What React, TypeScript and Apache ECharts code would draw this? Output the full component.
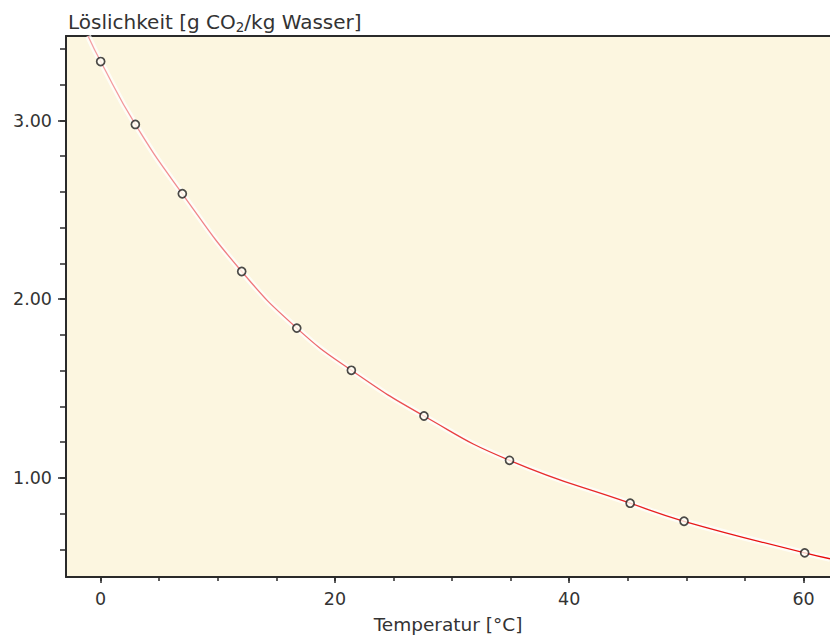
import React, { useEffect, useRef } from "react";
import * as echarts from "echarts";

// Measured values (Temperatur °C, Löslichkeit g CO2/kg Wasser)
const tempC = [0, 2.96, 6.97, 12.04, 16.74, 21.4, 27.6, 34.9, 45.2, 49.8, 60.1];
const solubility = [3.33, 2.978, 2.59, 2.155, 1.838, 1.602, 1.346, 1.098, 0.858, 0.757, 0.58];

// Fitted curve (ends at the plot borders)
const curveX = [-1.08, 0, 2.96, 6.97, 12.04, 16.74, 21.4, 27.6, 34.9, 45.2, 49.8, 60.1, 62.26];
const curveY = [3.473, 3.33, 2.978, 2.59, 2.155, 1.838, 1.602, 1.346, 1.098, 0.858, 0.757, 0.58, 0.547];

const xLabels = [0, 20, 40, 60];
const xMinorTicks = [0, 5, 10, 15, 20, 25, 30, 35, 40, 45, 50, 55, 60];
const yLabels = [1, 2, 3];
const yMinorTicks = [0.6, 0.8, 1.0, 1.2, 1.4, 1.6, 1.8, 2.0, 2.2, 2.4, 2.6, 2.8, 3.0, 3.2, 3.4];

const X_MIN = -2.96;
const X_MAX = 62.26;
const Y_MIN = 0.445;
const Y_MAX = 3.473;

const FONT = "DejaVu Sans";
const TEXT = "#333";
const AXIS = "#2a2a2a";

export default function App() {
  const ref = useRef<HTMLDivElement>(null);

  useEffect(() => {
    if (!ref.current) return;
    const chart = echarts.init(ref.current, null, { renderer: "svg" });
    const points = tempC.map((t, i) => [t, solubility[i]]);
    const curve = curveX.map((t, i) => [t, curveY[i]]);

    const hidden = { show: false };
    const hiddenLine = { show: false, onZero: false };
    chart.setOption({
      animation: false,
      backgroundColor: "#ffffff",
      title: {
        left: 63,
        top: 5,
        text: "{a|Löslichkeit [g CO}{s|2}{a|/kg Wasser]}",
        textStyle: {
          fontWeight: "normal",
          rich: {
            a: { fontFamily: FONT, fontSize: 20, fontWeight: "normal", color: TEXT, lineHeight: 24, verticalAlign: "middle" },
            s: { fontFamily: FONT, fontSize: 13.5, fontWeight: "normal", color: TEXT, lineHeight: 13, verticalAlign: "bottom" },
          },
        },
      },
      grid: {
        left: 66,
        right: 0,
        top: 36,
        bottom: 64,
        show: true,
        backgroundColor: "#FCF6E0",
        borderWidth: 0,
      },
      xAxis: [
        {
          type: "value",
          position: "bottom",
          min: X_MIN,
          max: X_MAX,
          axisLine: { show: true, onZero: false, lineStyle: { color: AXIS, width: 2 } },
          axisTick: { show: true, length: 4, customValues: xMinorTicks, lineStyle: { color: AXIS, width: 1.5 } },
          axisLabel: {
            show: true,
            customValues: xLabels,
            margin: 13,
            fontFamily: FONT,
            fontSize: 17.5,
            color: TEXT,
            formatter: (v: number) => String(v),
          },
          splitLine: hidden,
          name: "Temperatur [°C]",
          nameLocation: "middle",
          nameGap: 38,
          nameTextStyle: { fontFamily: FONT, fontSize: 18.5, color: TEXT },
        },
        {
          type: "value",
          position: "bottom",
          min: X_MIN,
          max: X_MAX,
          axisLine: hiddenLine,
          axisTick: { show: true, length: 6, customValues: xLabels, lineStyle: { color: AXIS, width: 1.5 } },
          axisLabel: hidden,
          splitLine: hidden,
        },
        {
          type: "value",
          position: "top",
          min: X_MIN,
          max: X_MAX,
          axisLine: { show: true, onZero: false, lineStyle: { color: AXIS, width: 2 } },
          axisTick: hidden,
          axisLabel: hidden,
          splitLine: hidden,
        },
      ],
      yAxis: [
        {
          type: "value",
          position: "left",
          min: Y_MIN,
          max: Y_MAX,
          axisLine: { show: true, onZero: false, lineStyle: { color: AXIS, width: 2 } },
          axisTick: { show: true, length: 6, customValues: yMinorTicks, lineStyle: { color: AXIS, width: 1.5 } },
          axisLabel: {
            show: true,
            customValues: yLabels,
            margin: 14,
            fontFamily: FONT,
            fontSize: 17.5,
            color: TEXT,
            formatter: (v: number) => v.toFixed(2),
          },
          splitLine: hidden,
        },
        {
          type: "value",
          position: "left",
          min: Y_MIN,
          max: Y_MAX,
          axisLine: hiddenLine,
          axisTick: { show: true, length: 8, customValues: yLabels, lineStyle: { color: AXIS, width: 1.5 } },
          axisLabel: hidden,
          splitLine: hidden,
        },
      ],
      series: [
        {
          type: "line",
          data: curve,
          smooth: 0.5,
          showSymbol: false,
          silent: true,
          z: 1,
          lineStyle: { color: "rgba(255,255,255,0.75)", width: 6 },
        },
        {
          type: "line",
          data: curve,
          smooth: 0.5,
          showSymbol: false,
          silent: true,
          z: 2,
          lineStyle: {
            width: 1.3,
            color: new echarts.graphic.LinearGradient(0, 0, 1, 0, [
              { offset: 0, color: "#f4a0a4" },
              { offset: 0.3, color: "#ee6a6e" },
              { offset: 0.55, color: "#e83434" },
              { offset: 1, color: "#e80a0a" },
            ]),
          },
        },
        {
          type: "scatter",
          data: points,
          symbol: "circle",
          symbolSize: 8,
          z: 3,
          itemStyle: { color: "#fffdf2", borderColor: "#1e1e1e", borderWidth: 1.7 },
        },
      ],
    });
    return () => chart.dispose();
  }, []);

  return (
    <div
      ref={ref}
      style={{ position: "fixed", left: 0, top: 0, width: 830, height: 641 }}
    />
  );
}
